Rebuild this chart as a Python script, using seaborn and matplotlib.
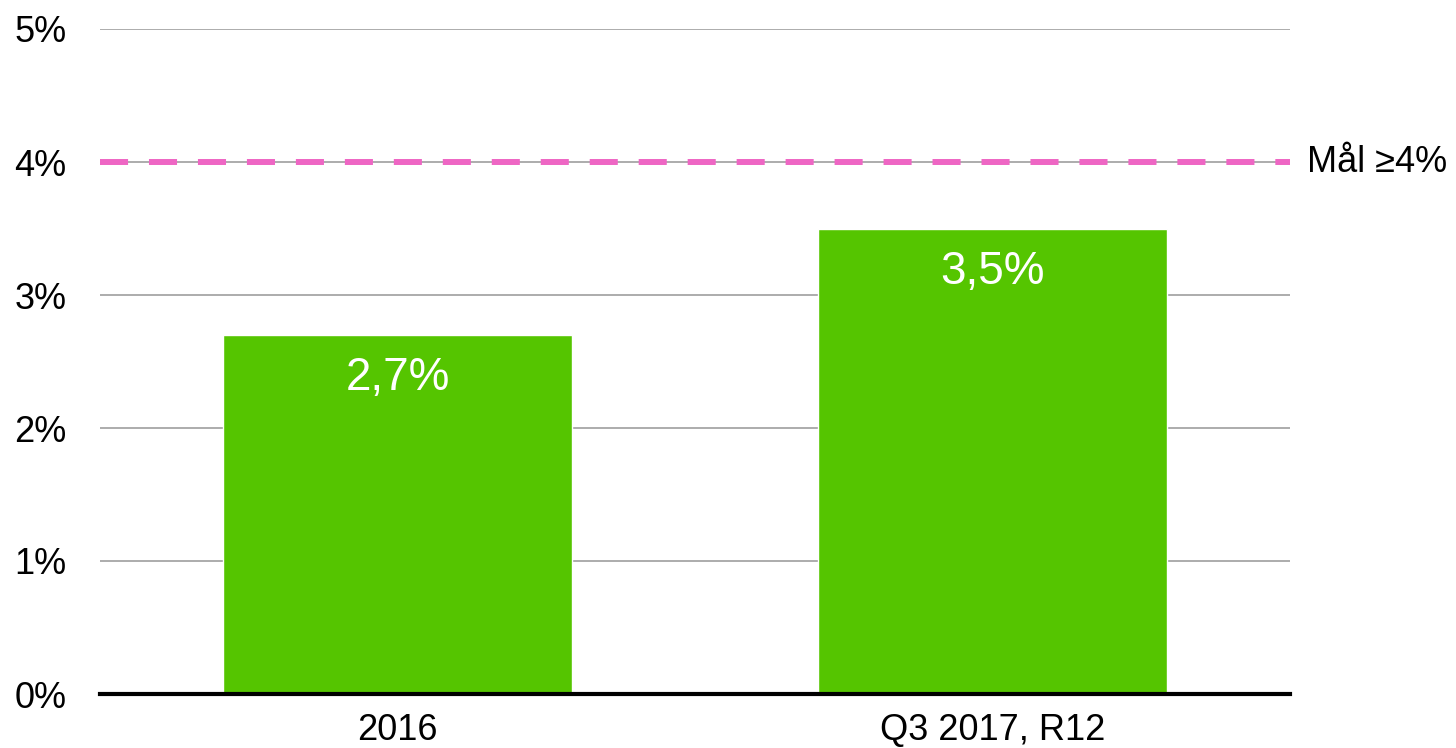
import matplotlib
matplotlib.use("Agg")
import matplotlib.pyplot as plt
import seaborn as sns
import pandas as pd

# --- DATA ---
categories = ["2016", "Q3 2017, R12"]
values = [2.7, 3.5]
value_labels = ["2,7%", "3,5%"]
target = 4.0
target_label = "Mål ≥4%"
yticks = [0, 1, 2, 3, 4, 5]
ytick_labels = ["0%", "1%", "2%", "3%", "4%", "5%"]

df = pd.DataFrame({"cat": categories, "val": values})

sns.set_style("white")
plt.rcParams["font.family"] = ["Liberation Sans", "DejaVu Sans"]
plt.rcParams["text.color"] = "black"
plt.rcParams["xtick.color"] = "black"
plt.rcParams["ytick.color"] = "black"

fig = plt.figure(figsize=(14.56, 7.48), dpi=100)
ax = fig.add_axes([100 / 1456, 1 - 694 / 748, 1190 / 1456, 665 / 748])

sns.barplot(data=df, x="cat", y="val", color="#55C500", width=0.585,
            saturation=1, ax=ax, zorder=3)

# bar value labels
for i, (v, lab) in enumerate(zip(values, value_labels)):
    ax.text(i, v - 0.16, lab, ha="center", va="top", color="white",
            fontsize=33, zorder=5)

# target line
ax.axhline(target, color="#EE66C4", lw=4.3, dashes=(4.7, 3.5), zorder=4)
ax.text(1.5 + 17 / 595, target, target_label, ha="left", va="center",
        fontsize=26, color="black", clip_on=False)

ax.set_xlim(-0.5, 1.5)
ax.set_ylim(0, 5)
ax.set_yticks(yticks)
ax.set_yticklabels(ytick_labels)
ax.yaxis.grid(True, color="#A6A6A6", lw=1.3, zorder=0)
ax.set_axisbelow(True)
ax.tick_params(axis="both", length=0, labelsize=26, labelcolor="black")
ax.tick_params(axis="y", pad=24)
ax.tick_params(axis="x", pad=14)
ax.set_xlabel("")
ax.set_ylabel("")

for s in ["top", "right", "left"]:
    ax.spines[s].set_visible(False)
ax.spines["bottom"].set_color("black")
ax.spines["bottom"].set_linewidth(3)
ax.spines["bottom"].set_zorder(6)

fig.savefig("out.png", dpi=100)
